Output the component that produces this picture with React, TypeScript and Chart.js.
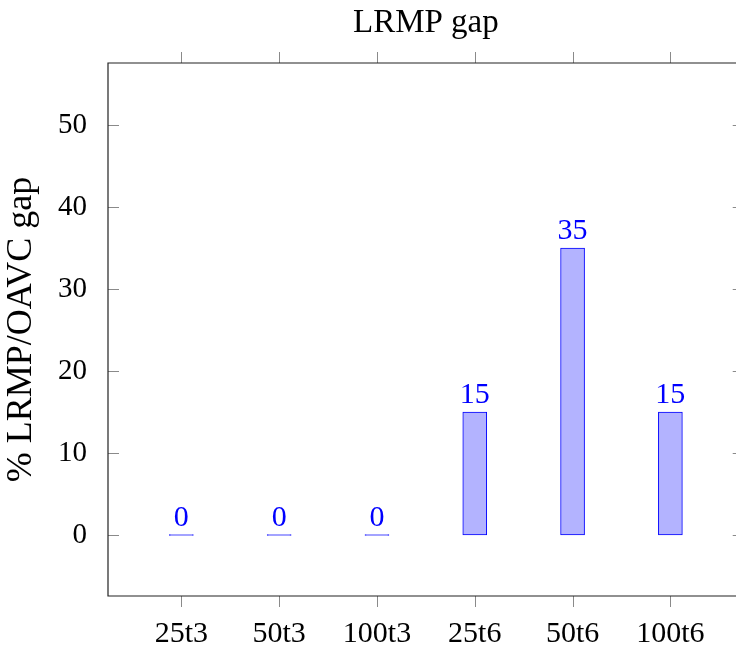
import React, { useEffect, useRef } from "react";
import { Chart, registerables } from "chart.js";

Chart.register(...registerables);

const categories = ["25t3", "50t3", "100t3", "25t6", "50t6", "100t6"];
const gapValues = [0, 0, 0, 15, 35, 15];
const yTickValues = [0, 10, 20, 30, 40, 50];
const chartTitle = "LRMP gap";
const yAxisTitle = "% LRMP/OAVC gap";

const FONT = "'Liberation Serif', 'DejaVu Serif', serif";
const BLUE = "#0000ff";
const BAR_FILL = "#b3b3ff";

const X_MIN = -0.75;
const X_FRAME_MAX = 5.75;
const X_VIEW_MAX = 5.671;
const Y_MIN = -7.44;
const Y_MAX = 57.56;
const TICK_LEN = 11;

// Frame, inward/outward tick marks, titles and value labels in the pgfplots manner
const decorations = {
  id: "decorations",
  afterDraw(chart: any) {
    const { ctx, chartArea } = chart;
    const xs = chart.scales.x;
    const ys = chart.scales.y;
    const left = chartArea.left;
    const top = chartArea.top;
    const bottom = chartArea.bottom;
    const rightFrame = xs.getPixelForValue(X_FRAME_MAX);

    ctx.save();
    // tick marks
    ctx.strokeStyle = "#8a8a8a";
    ctx.lineWidth = 1;
    ctx.beginPath();
    categories.forEach((_, i) => {
      const px = Math.round(xs.getPixelForValue(i)) + 0.5;
      ctx.moveTo(px, top);
      ctx.lineTo(px, top - TICK_LEN);
      ctx.moveTo(px, bottom);
      ctx.lineTo(px, bottom + TICK_LEN);
    });
    yTickValues.forEach((v) => {
      const py = Math.round(ys.getPixelForValue(v)) + 0.5;
      ctx.moveTo(left, py);
      ctx.lineTo(left + TICK_LEN, py);
      ctx.moveTo(rightFrame, py);
      ctx.lineTo(rightFrame - TICK_LEN, py);
    });
    ctx.stroke();

    // frame (right edge lies outside the canvas)
    ctx.strokeStyle = "#222";
    ctx.lineWidth = 1.2;
    ctx.beginPath();
    ctx.moveTo(rightFrame, top);
    ctx.lineTo(left, top);
    ctx.lineTo(left, bottom);
    ctx.lineTo(rightFrame, bottom);
    ctx.stroke();

    // value labels above bars
    const meta = chart.getDatasetMeta(0);
    ctx.fillStyle = BLUE;
    ctx.font = `30px ${FONT}`;
    ctx.textAlign = "center";
    ctx.textBaseline = "alphabetic";
    meta.data.forEach((el: any, i: number) => {
      const yTop = ys.getPixelForValue(gapValues[i]);
      ctx.fillText(String(gapValues[i]), el.x, yTop - 9);
    });

    // chart title
    ctx.fillStyle = "#000";
    ctx.font = `33px ${FONT}`;
    ctx.textBaseline = "middle";
    ctx.fillText(chartTitle, (left + rightFrame) / 2, 23);

    // y axis title
    ctx.font = `36px ${FONT}`;
    ctx.translate(22, (top + bottom) / 2);
    ctx.rotate(-Math.PI / 2);
    ctx.fillText(yAxisTitle, 0, 0);
    ctx.restore();
  },
};

export default function App() {
  const canvasRef = useRef<HTMLCanvasElement | null>(null);

  useEffect(() => {
    if (!canvasRef.current) return;
    const chart = new Chart(canvasRef.current, {
      type: "bar",
      data: {
        datasets: [
          {
            data: gapValues.map((v, i) => ({ x: i, y: v })),
            backgroundColor: BAR_FILL,
            borderColor: BLUE,
            borderWidth: 1,
            borderSkipped: false,
            barThickness: 24,
            minBarLength: 1,
          },
        ],
      },
      options: {
        responsive: false,
        animation: false,
        layout: { padding: { top: 63, right: 0, left: 0, bottom: 0 } },
        plugins: {
          legend: { display: false },
          tooltip: { enabled: false },
          title: { display: false },
        },
        scales: {
          x: {
            type: "linear",
            offset: false,
            min: X_MIN,
            max: X_VIEW_MAX,
            grid: { display: false, offset: false },
            border: { display: false },
            afterBuildTicks: (scale: any) => {
              scale.ticks = categories.map((_, i) => ({ value: i }));
            },
            afterFit: (scale: any) => {
              scale.height = 49;
              scale.paddingLeft = 0;
              scale.paddingRight = 0;
            },
            ticks: {
              autoSkip: false,
              maxRotation: 0,
              padding: 12,
              color: "#000",
              font: { family: FONT, size: 30 },
              callback: (v: any) => categories[Math.round(Number(v))] ?? "",
            },
          },
          y: {
            min: Y_MIN,
            max: Y_MAX,
            grid: { display: false },
            border: { display: false },
            afterBuildTicks: (scale: any) => {
              scale.ticks = yTickValues.map((v) => ({ value: v }));
            },
            afterFit: (scale: any) => {
              scale.width = 108;
              scale.paddingTop = 0;
              scale.paddingBottom = 0;
            },
            ticks: {
              padding: 13,
              color: "#000",
              font: { family: FONT, size: 29 },
            },
          },
        },
      },
      plugins: [decorations],
    });
    return () => chart.destroy();
  }, []);

  return (
    <div style={{ position: "absolute", left: 0, top: 0, width: 736, height: 645, background: "#fff" }}>
      <canvas ref={canvasRef} width={736} height={645} />
    </div>
  );
}
